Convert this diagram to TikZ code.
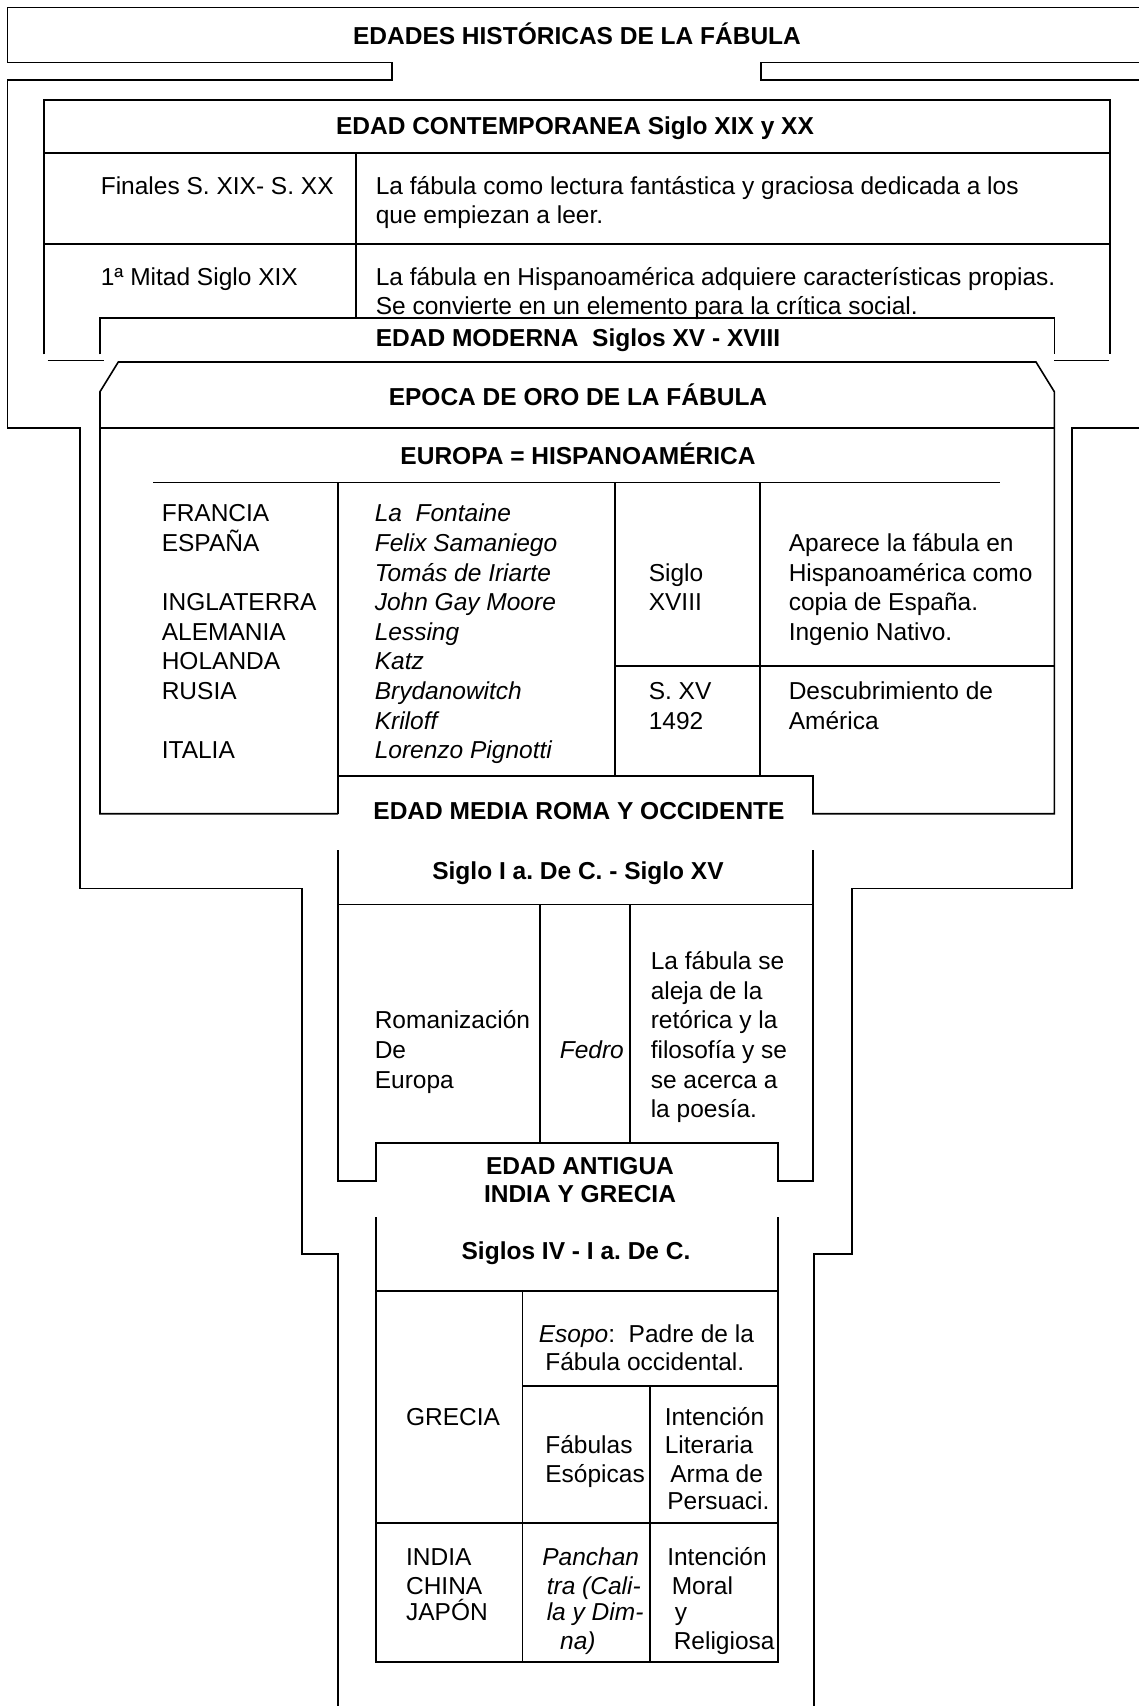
\documentclass[tikz,border=0pt]{standalone}
\usepackage{fontspec}
\setmainfont{Liberation Sans}
\frenchspacing
\newcommand\fsz{\fontsize{24.5}{29.3}\selectfont\frenchspacing}
\begin{document}
\begin{tikzpicture}[x=1pt,y=-1pt,line width=1.6pt,
  t/.style={inner sep=0pt,anchor=base west,font=\fsz},
  ti/.style={inner sep=0pt,anchor=base west,font=\fsz\itshape},
  tb/.style={inner sep=0pt,anchor=base,font=\fsz\bfseries}]
\useasboundingbox (0,0) rectangle (1139,1706);
\clip (0,0) rectangle (1139,1706);
% ---------------- outer shape
\draw (1150,7.3) -- (7.3,7.3) -- (7.3,62.3) -- (392,62.3) -- (392,80) -- (7.3,80)
  -- (7.3,427.7) -- (80,427.7) -- (80,888.3) -- (302,888.3) -- (302,1254)
  -- (338,1254) -- (338,1712);
\draw (1150,62.3) -- (761,62.3) -- (761,80) -- (1150,80);
\draw (1150,427.7) -- (1072,427.7) -- (1072,888.3) -- (852,888.3) -- (852,1254)
  -- (814,1254) -- (814,1712);
% ---------------- contemporanea
\draw (44,354.3) -- (44,100) -- (1110,100) -- (1110,354.3);
\draw (44,152.7) -- (1110,152.7);
\draw (44,244) -- (1110,244);
\draw (356,152.7) -- (356,318);
\draw (47.7,360.3) -- (104.3,360.3);
\draw (1054,360.3) -- (1109,360.3);
% ---------------- moderna
\draw (100,354.3) -- (100,318) -- (1054.3,318) -- (1054.3,354.3);
\draw (338,813.7) -- (100,813.7) -- (100,391.7) -- (118.3,362) -- (1036,362)
  -- (1054.3,391.7) -- (1054.3,813.7) -- (813,813.7) -- (813,776) -- (338,776);
\draw (100,427.7) -- (1054.3,427.7);
\draw (153.3,482.5) -- (1000,482.5);
\draw (338,482.5) -- (338,813.7);
\draw (615,482.5) -- (615,776);
\draw (760,482.5) -- (760,776);
\draw (615,666) -- (1054.3,666);
% ---------------- media
\draw (338,850) -- (338,1180.7) -- (376,1180.7) -- (376,1143) -- (778,1143)
  -- (778,1180.7) -- (813,1180.7) -- (813,850);
\draw (338,904.3) -- (813,904.3);
\draw (540,904.3) -- (540,1143);
\draw (630,904.3) -- (630,1143);
% ---------------- antigua
\draw (376,1217) -- (376,1662) -- (778,1662) -- (778,1217);
\draw (376,1290.7) -- (778,1290.7);
\draw (522.3,1290.7) -- (522.3,1662);
\draw (522.3,1385.7) -- (778,1385.7);
\draw (650,1385.7) -- (650,1662);
\draw (376,1522.7) -- (778,1522.7);
% ---------------- titles
\node[tb] (title) at (577,44) {EDADES HISTÓRICAS DE LA FÁBULA};
\node[tb] (contT) at (575,134.3) {EDAD CONTEMPORANEA Siglo XIX y XX};
\node[tb] (modT) at (578,346) {EDAD MODERNA\ \ Siglos XV - XVIII};
\node[tb] (oroT) at (578,405.5) {EPOCA DE ORO DE LA FÁBULA};
\node[tb] (eurT) at (578,464) {EUROPA = HISPANOAMÉRICA};
\node[tb] (medT) at (579,819) {EDAD MEDIA ROMA Y OCCIDENTE};
\node[tb] (medS) at (578,879) {Siglo I a. De C. - Siglo XV};
\node[tb] (antT1) at (580,1174) {EDAD ANTIGUA};
\node[tb] (antT2) at (580,1202) {INDIA Y GRECIA};
\node[tb] (antS) at (576,1259) {Siglos IV - I a. De C.};
% ---------------- contemporanea texts
\node[t] (c1a) at (100,194.3) {Finales S. XIX- S. XX};
\node[t] (c1b) at (375,194.3) {La fábula como lectura fantástica y graciosa dedicada a los};
\node[t] (c1c) at (375,223.6) {que empiezan a leer.};
\node[t] (c2a) at (100,285.5) {1ª Mitad Siglo XIX};
\node[t] (c2b) at (375,285.5) {La fábula en Hispanoamérica adquiere características propias.};
\node[t] (c2c) at (375,314.8) {Se convierte en un elemento para la crítica social.};
% ---------------- moderna texts
\node[t] (m1) at (161,521.8) {FRANCIA};
\node[t] (m2) at (161,551.4) {ESPAÑA};
\node[t] (m3) at (161,610.6) {INGLATERRA};
\node[t] (m4) at (161,640.2) {ALEMANIA};
\node[t] (m5) at (161,669.8) {HOLANDA};
\node[t] (m6) at (161,699.4) {RUSIA};
\node[t] (m7) at (161,758.6) {ITALIA};
\node[ti] (a1) at (374,521.8) {La\ \ Fontaine};
\node[ti] (a2) at (374,551.4) {Felix Samaniego};
\node[ti] (a3) at (374,581) {Tomás de Iriarte};
\node[ti] (a4) at (374,610.6) {John Gay Moore};
\node[ti] (a5) at (374,640.2) {Lessing};
\node[ti] (a6) at (374,669.8) {Katz};
\node[ti] (a7) at (374,699.4) {Brydanowitch};
\node[ti] (a8) at (374,729) {Kriloff};
\node[ti] (a9) at (374,758.6) {Lorenzo Pignotti};
\node[t] (s1) at (648,581) {Siglo};
\node[t] (s2) at (648,610.6) {XVIII};
\node[t] (s3) at (648,699.4) {S. XV};
\node[t] (s4) at (648,729) {1492};
\node[t] (d1) at (788,551.4) {Aparece la fábula en};
\node[t] (d2) at (788,581) {Hispanoamérica como};
\node[t] (d3) at (788,610.6) {copia de España.};
\node[t] (d4) at (788,640.2) {Ingenio Nativo.};
\node[t] (d5) at (788,699.4) {Descubrimiento de};
\node[t] (d6) at (788,729) {América};
% ---------------- media texts
\node[t] (r1) at (374,1028) {Romanización};
\node[t] (r2) at (374,1058) {De};
\node[t] (r3) at (374,1088) {Europa};
\node[ti] (fed) at (559,1058) {Fedro};
\node[t] (f1) at (650,969) {La fábula se};
\node[t] (f2) at (650,999) {aleja de la};
\node[t] (f3) at (650,1028) {retórica y la};
\node[t] (f4) at (650,1058) {filosofía y se};
\node[t] (f5) at (650,1088) {se acerca a};
\node[t] (f6) at (650,1117) {la poesía.};
% ---------------- antigua texts
\node[t] (e1) at (538,1342) {\textit{Esopo}:\ \ Padre de la};
\node[t] (e2) at (544.6,1370.5) {Fábula occidental.};
\node[t] (g1) at (405.3,1425.5) {GRECIA};
\node[t] (g2) at (544.6,1453) {Fábulas};
\node[t] (g3) at (544.6,1482) {Esópicas};
\node[t] (h1) at (664,1425.5) {Intención};
\node[t] (h2) at (664,1453) {Literaria};
\node[t] (h3) at (669.6,1482) {Arma de};
\node[t] (h4) at (666.5,1509) {Persuaci.};
\node[t] (i1) at (405.3,1565.5) {INDIA};
\node[t] (i2) at (405.3,1594) {CHINA};
\node[t] (i3) at (405.3,1620.5) {JAPÓN};
\node[ti] (p1) at (541.5,1565.5) {Panchan};
\node[ti] (p2) at (546,1594) {tra (Cali-};
\node[ti] (p3) at (546,1620.5) {la y Dim-};
\node[ti] (p4) at (559.4,1649) {na)};
\node[t] (j1) at (666.5,1565.5) {Intención};
\node[t] (j2) at (671,1594) {Moral};
\node[t] (j3) at (674,1620.5) {y};
\node[t] (j4) at (673,1649) {Religiosa};
\end{tikzpicture}
\end{document}
